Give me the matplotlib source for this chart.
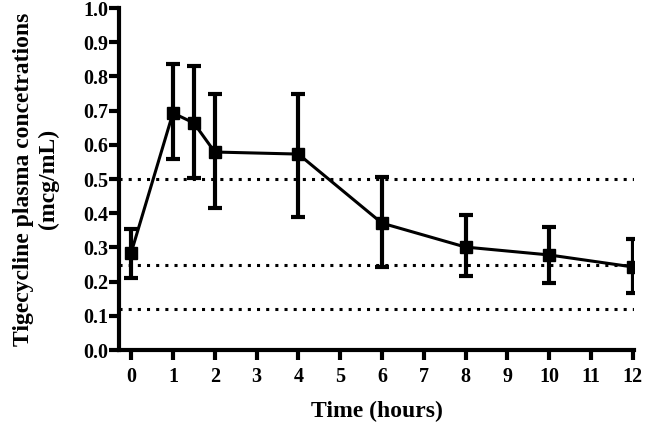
import matplotlib
matplotlib.use('Agg')
import matplotlib.pyplot as plt

# tigecycline concentration vs time (mean with error bars)
time_h = [0, 1, 1.5, 2, 4, 6, 8, 10, 12]
conc = [0.284, 0.693, 0.664, 0.579, 0.573, 0.371, 0.301, 0.278, 0.243]
err_hi = [0.354, 0.836, 0.830, 0.748, 0.748, 0.506, 0.395, 0.360, 0.325]
err_lo = [0.210, 0.558, 0.503, 0.415, 0.389, 0.243, 0.216, 0.196, 0.167]
ref_levels = [0.5, 0.25, 0.12]

xticks = list(range(0, 13))
yticks = [i / 10 for i in range(0, 11)]

plt.rcParams['font.family'] = ['Liberation Serif', 'DejaVu Serif']
plt.rcParams['font.weight'] = 'bold'

fig = plt.figure(figsize=(6.45, 4.24), dpi=100)
ax = fig.add_axes([0.1845, 0.1745, 0.983 - 0.1845, 0.981 - 0.1745])

for lvl in ref_levels:
    ax.axhline(lvl, color='black', lw=2.2, linestyle=(0, (1, 2.0)), zorder=1)

yerr = [[c - lo for c, lo in zip(conc, err_lo)],
        [hi - c for c, hi in zip(conc, err_hi)]]
ax.errorbar(time_h, conc, yerr=yerr, color='black', lw=2.2, elinewidth=3,
            capsize=4.7, capthick=3, marker='s', markersize=8, zorder=3)

ax.set_xlim(-0.29, 12.03)
ax.set_ylim(0, 1.0)
ax.set_xticks(xticks)
ax.set_yticks(yticks)
ax.set_yticklabels(['%.1f' % v for v in yticks])

for s in ['top', 'right']:
    ax.spines[s].set_visible(False)
for s in ['left', 'bottom']:
    ax.spines[s].set_linewidth(3)
    ax.spines[s].set_capstyle('projecting')

ax.tick_params(axis='both', width=3, length=7, labelsize=14.5, direction='out')
ax.tick_params(axis='x', pad=5)
ax.tick_params(axis='y', pad=1)

ax.set_xlabel('Time (hours)', fontsize=17, fontweight='bold', labelpad=10)
ax.set_ylabel('Tigecycline plasma concetrations\n(mcg/mL)', fontsize=17,
              fontweight='bold', labelpad=17, linespacing=1.25)

fig.savefig('out.png', dpi=100)
